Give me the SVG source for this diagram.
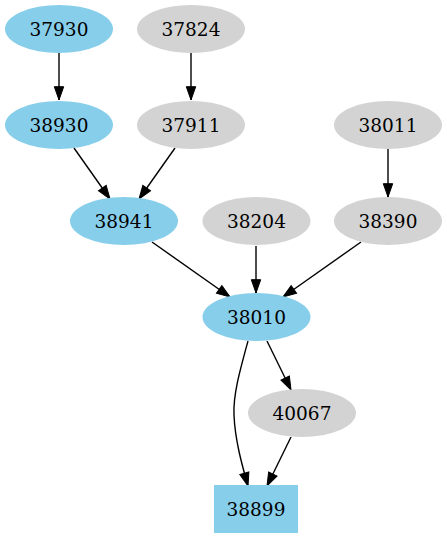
<svg xmlns="http://www.w3.org/2000/svg" width="447" height="539" viewBox="0 0 447 539">
<style>
.b{fill:#87ceeb;stroke:none}
.g{fill:#d3d3d3;stroke:none}
text{font-family:"DejaVu Serif",serif;font-size:18.5px;text-anchor:middle;fill:#000}
.e{fill:none;stroke:#000;stroke-width:1.4;marker-end:url(#a)}
</style>
<defs>
<marker id="a" markerUnits="userSpaceOnUse" markerWidth="16" markerHeight="12" viewBox="0 -6 14 12" refX="13.3" refY="0" orient="auto">
<path d="M0,-4.7 L13.3,0 L0,4.7 z" fill="#000" stroke="#000" stroke-width="1"/>
</marker>
</defs>
<rect width="447" height="539" fill="#fff"/>
<g id="edges">
<line class="e" x1="59" y1="53" x2="59" y2="100"/>
<line class="e" x1="191" y1="53" x2="191" y2="100"/>
<line class="e" x1="74" y1="148" x2="110" y2="199"/>
<line class="e" x1="175" y1="148" x2="139" y2="199"/>
<line class="e" x1="388" y1="149" x2="388" y2="197"/>
<line class="e" x1="152" y1="242" x2="230" y2="297"/>
<line class="e" x1="256" y1="246" x2="256" y2="293"/>
<line class="e" x1="361" y1="242" x2="283" y2="297"/>
<line class="e" x1="267" y1="341" x2="291" y2="390"/>
<path class="e" d="M248,341 C240,370 233,395 234,415 C235,440 242,465 248,486"/>
<line class="e" x1="291" y1="437" x2="267" y2="486"/>
</g>
<g id="n37930"><ellipse class="b" cx="59" cy="29" rx="54" ry="24"/><text x="59" y="35.5">37930</text></g>
<g id="n37824"><ellipse class="g" cx="191" cy="29" rx="54" ry="24"/><text x="191" y="35.5">37824</text></g>
<g id="n38930"><ellipse class="b" cx="59" cy="125" rx="54" ry="24"/><text x="59" y="131.5">38930</text></g>
<g id="n37911"><ellipse class="g" cx="191" cy="125" rx="54" ry="24"/><text x="191" y="131.5">37911</text></g>
<g id="n38011"><ellipse class="g" cx="388" cy="125" rx="54" ry="24"/><text x="388" y="131.5">38011</text></g>
<g id="n38941"><ellipse class="b" cx="124" cy="221" rx="54" ry="24"/><text x="124" y="227.5">38941</text></g>
<g id="n38204"><ellipse class="g" cx="256.5" cy="221" rx="54" ry="24"/><text x="256.5" y="227.5">38204</text></g>
<g id="n38390"><ellipse class="g" cx="388" cy="221" rx="54" ry="24"/><text x="388" y="227.5">38390</text></g>
<g id="n38010"><ellipse class="b" cx="256.5" cy="317" rx="54" ry="24"/><text x="256.5" y="323.5">38010</text></g>
<g id="n40067"><ellipse class="g" cx="302" cy="413" rx="54" ry="24"/><text x="302" y="419.5">40067</text></g>
<g id="n38899"><rect class="b" x="214" y="485" width="84" height="48"/><text x="256" y="515.5">38899</text></g>
</svg>
